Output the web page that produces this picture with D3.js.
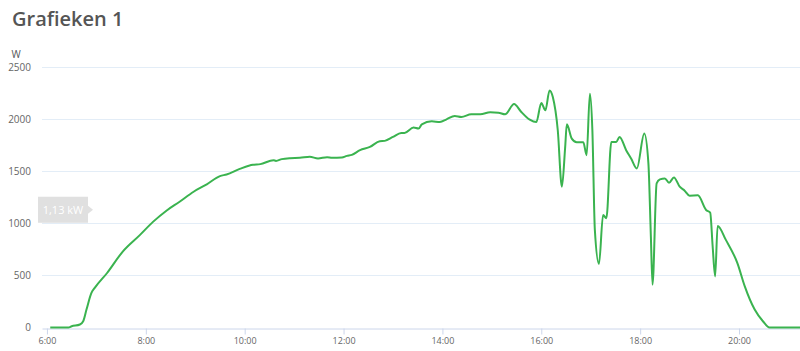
<!DOCTYPE html>
<html>
<head>
<meta charset="utf-8">
<script src="https://cdn.jsdelivr.net/npm/d3@7"></script>
<style>
  body { margin: 0; background: #fff; font-family: "Open Sans", sans-serif; }
  #chart { width: 800px; height: 351px; }
</style>
</head>
<body>
<div id="chart"></div>
<script>
// Power readings (time of day, watts)
const times = [
    '6:04', '6:26', '6:30', '6:40', '6:44', '6:48', '6:54', '6:58', '7:13', '7:32',
    '7:53', '8:09', '8:25', '8:41', '8:58', '9:14', '9:30', '9:38', '9:54', '10:06',
    '10:10', '10:19', '10:35', '10:38', '10:45', '10:55', '11:07', '11:19', '11:29', '11:40',
    '11:46', '11:58', '12:04', '12:10', '12:20', '12:32', '12:44', '12:50', '13:00', '13:10',
    '13:14', '13:25', '13:31', '13:35', '13:47', '13:57', '14:05', '14:15', '14:23', '14:35',
    '14:46', '14:58', '15:08', '15:16', '15:27', '15:35', '15:46', '15:54', '16:00', '16:05',
    '16:10', '16:14', '16:20', '16:25', '16:29', '16:31', '16:37', '16:43', '16:51', '16:55',
    '16:59', '17:02', '17:05', '17:10', '17:15', '17:19', '17:25', '17:31', '17:35', '17:43',
    '17:49', '17:56', '18:05', '18:10', '18:13', '18:15', '18:20', '18:24', '18:30', '18:35',
    '18:41', '18:48', '18:54', '19:00', '19:10', '19:20', '19:25', '19:28', '19:31', '19:34',
    '19:44', '19:58', '20:07', '20:19', '20:29', '20:37', '21:14'
];
const watts = [
    0, 0, 12, 29, 60, 172, 332, 380, 523, 729,
    889, 1016, 1121, 1207, 1303, 1374, 1453, 1469, 1522, 1555,
    1561, 1568, 1606, 1599, 1616, 1625, 1628, 1638, 1622, 1635,
    1628, 1632, 1647, 1657, 1702, 1733, 1788, 1791, 1829, 1867,
    1867, 1919, 1909, 1950, 1979, 1972, 1998, 2030, 2020, 2046,
    2046, 2065, 2062, 2046, 2145, 2075, 1995, 1972, 2154, 2084,
    2275, 2211, 1893, 1351, 1733, 1950, 1813, 1778, 1778, 1654,
    2244, 1893, 937, 609, 1080, 1049, 1781, 1781, 1829, 1702,
    1622, 1527, 1861, 1575, 873, 411, 1383, 1421, 1431, 1389,
    1440, 1351, 1313, 1265, 1268, 1128, 1103, 777, 490, 975,
    841, 618, 395, 172, 60, 0, 0
];
const yTicks = [0, 500, 1000, 1500, 2000, 2500];
const xTicks = ['6:00', '8:00', '10:00', '12:00', '14:00', '16:00', '18:00', '20:00'];
const xStart = '5:54';
const title = 'Grafieken 1';
const unit = 'W';
const badgeText = '1,13 kW';
const badgeValue = 1130;

const toHours = s => { const [h, m] = s.split(':').map(Number); return h + m / 60; };
const data = times.map((t, i) => ({ h: toHours(t), w: watts[i] }));

const width = 800, height = 351;
const margin = { top: 67, right: 0, bottom: 23, left: 42 };

const svg = d3.select('#chart').append('svg')
    .attr('width', width)
    .attr('height', height);

svg.append('text')
    .attr('x', 12)
    .attr('y', 26)
    .style('font-size', '20px')
    .style('font-weight', 600)
    .style('fill', '#555')
    .text(title);

const x = d3.scaleLinear()
    .domain([toHours(xStart), d3.max(data, d => d.h)])
    .range([margin.left, width - margin.right]);

const y = d3.scaleLinear()
    .domain([0, 2500])
    .range([height - margin.bottom - 0.5, margin.top]);

// Grid lines
svg.append('g')
    .selectAll('line')
    .data(yTicks.slice(1))
    .enter()
    .append('line')
    .attr('x1', margin.left)
    .attr('x2', width)
    .attr('y1', d => Math.round(y(d)) + 0.5)
    .attr('y2', d => Math.round(y(d)) + 0.5)
    .attr('stroke', '#e3edf7')
    .attr('stroke-width', 1);

// Y axis labels
const yAxis = svg.append('g')
    .attr('transform', `translate(${margin.left},0)`)
    .call(d3.axisLeft(y).tickValues(yTicks).tickFormat(d3.format('d'))
        .tickSize(0).tickPadding(11));
yAxis.select('.domain').remove();
yAxis.selectAll('text')
    .style('font-family', '"Open Sans", sans-serif')
    .style('font-size', '10px')
    .style('fill', '#666');

svg.append('text')
    .attr('x', 16)
    .attr('y', 58)
    .attr('text-anchor', 'middle')
    .style('font-size', '10px')
    .style('fill', '#555')
    .text(unit);

// X axis
const xAxis = svg.append('g')
    .attr('transform', `translate(0,${Math.round(y(0)) + 0.5})`)
    .call(d3.axisBottom(x).tickValues(xTicks.map(toHours))
        .tickFormat((d, i) => xTicks[i]).tickSize(6).tickPadding(3).tickSizeOuter(0));
xAxis.select('.domain')
    .attr('stroke', '#ccd6eb');
xAxis.selectAll('.tick line')
    .attr('stroke', '#ccd6eb');
xAxis.selectAll('text')
    .style('font-family', '"Open Sans", sans-serif')
    .style('font-size', '9px')
    .style('fill', '#666');

// Power line
const line = d3.line()
    .x(d => x(d.h))
    .y(d => y(d.w))
    .curve(d3.curveMonotoneX);

svg.append('path')
    .datum(data)
    .attr('d', line)
    .attr('fill', 'none')
    .attr('stroke', '#3ab34f')
    .attr('stroke-width', 2)
    .attr('stroke-linejoin', 'round');

// Value badge on the y axis
const by = y(badgeValue);
const badge = svg.append('g');
badge.append('path')
    .attr('d', `M38,${by - 13} H88 V${by - 4} L93,${by} L88,${by + 4} V${by + 13} H38 Z`)
    .attr('fill', '#e0e0e0');
badge.append('text')
    .attr('x', 63)
    .attr('y', by + 4)
    .attr('text-anchor', 'middle')
    .style('font-size', '11px')
    .style('fill', '#fff')
    .text(badgeText);
</script>
</body>
</html>
